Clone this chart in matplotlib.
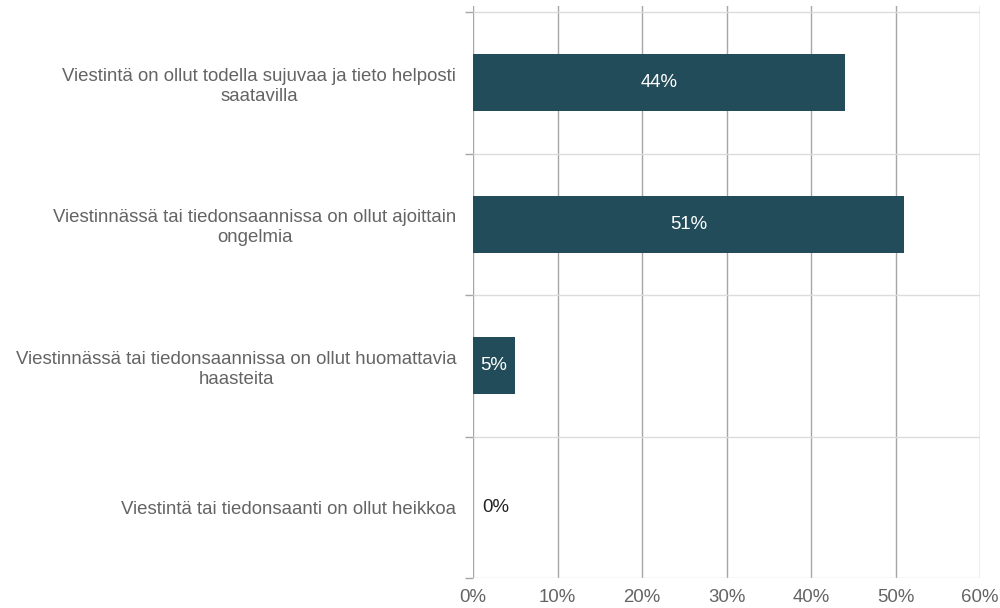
import numpy as np
import matplotlib.pyplot as plt
from matplotlib.ticker import FixedLocator

plt.rcParams['font.family'] = ['Liberation Sans', 'DejaVu Sans']

categories = [
    "Viestintä on ollut todella sujuvaa ja tieto helposti\nsaatavilla",
    "Viestinnässä tai tiedonsaannissa on ollut ajoittain\nongelmia",
    "Viestinnässä tai tiedonsaannissa on ollut huomattavia\nhaasteita",
    "Viestintä tai tiedonsaanti on ollut heikkoa",
]
values = [44, 51, 5, 0]
xticks = [0, 10, 20, 30, 40, 50, 60]

bar_color = '#234c5a'
text_gray = '#646464'
fs = 13.4

fig = plt.figure(figsize=(10, 6.08), dpi=100)
ax = fig.add_axes([0.473, 1 - 578 / 608, 0.507, 572 / 608])

y = np.arange(len(categories))
ax.barh(y, values, height=0.4, color=bar_color, zorder=3)

for yi, v in zip(y, values):
    if v > 0:
        ax.text(v / 2, yi, f"{v}%", color='white', ha='center', va='center',
                fontsize=fs, zorder=4)
    else:
        ax.text(1.1, yi, f"{v}%", color='#222222', ha='left', va='center',
                fontsize=fs, zorder=4)

ax.set_xlim(0, 60)
ax.set_ylim(3.5, -0.5 - 6 / 141.5)

for s in ax.spines.values():
    s.set_visible(False)

# vertical gridlines
for xt in xticks:
    ax.axvline(xt, color='#a6a6a6', lw=1.0, zorder=1)
# band separators
for b in np.arange(-0.5, len(categories)):
    ax.axhline(b, color='#dcdcdc', lw=1.0, zorder=1)

ax.set_xticks(xticks)
ax.set_xticklabels([f"{t}%" for t in xticks], color=text_gray, fontsize=fs)
ax.tick_params(axis='x', length=0, pad=8)

ax.set_yticks(y)
ax.set_yticklabels(categories, color=text_gray, fontsize=fs,
                   multialignment='center', linespacing=1.25)
ax.tick_params(axis='y', which='major', length=0, pad=12)
ax.yaxis.set_minor_locator(FixedLocator(np.arange(-0.5, len(categories))))
ax.tick_params(axis='y', which='minor', length=6, color='#a6a6a6', width=1)

fig.savefig('out.png', dpi=100)
